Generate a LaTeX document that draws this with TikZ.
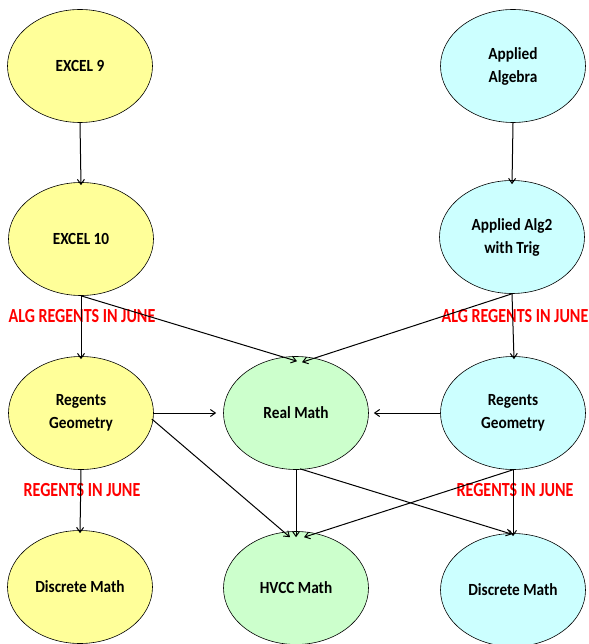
\documentclass[tikz,border=0pt]{standalone}
\usepackage{fontspec}
\setmainfont{Carlito}
\newfontfamily\nodefont[FakeStretch=0.9]{Carlito}
\newfontfamily\redfont[FakeStretch=0.8]{Carlito}
\usetikzlibrary{arrows.meta,shapes.geometric}
\definecolor{cyel}{RGB}{255,255,153}
\definecolor{ccya}{RGB}{204,255,255}
\definecolor{cgrn}{RGB}{204,255,204}
\tikzset{
  course/.style={ellipse, draw=black, line width=0.6pt, minimum width=145pt, minimum height=113pt, inner sep=0pt, align=center, font=\nodefont\fontsize{17}{23}\selectfont\bfseries},
  yel/.style={course, fill=cyel},
  cya/.style={course, fill=ccya},
  grn/.style={course, fill=cgrn},
  arr/.style={-{Straight Barb[length=5pt,width=7pt]}, line width=1pt, black},
  note/.style={text=red, font=\redfont\fontsize{20}{22}\selectfont\bfseries, inner sep=0pt}
}
\begin{document}
\begin{tikzpicture}[x=1pt,y=-1pt]
\useasboundingbox (0,0) rectangle (588,644);
\node[yel] (e9) at (80,66) {EXCEL 9};
\node[cya] (aa) at (513,66) {Applied\\Algebra};
\node[yel] (e10) at (81,239) {EXCEL 10};
\node[cya] (aa2) at (512,237) {Applied Alg2\\with Trig};
\node[yel] (rgl) at (81,413) {Regents\\Geometry};
\node[grn] (rm) at (296,413) {Real Math};
\node[cya] (rgr) at (513,413) {Regents\\Geometry};
\node[yel] (dml) at (80,587) {Discrete Math};
\node[grn] (hv) at (296,588) {HVCC Math};
\node[cya] (dmr) at (513,590) {Discrete Math};

\node[note] (l1) at (82,316) {ALG REGENTS IN JUNE};
\node[note] (l2) at (515,316) {ALG REGENTS IN JUNE};
\node[note] (l3) at (82,490) {REGENTS IN JUNE};
\node[note] (l4) at (515,490) {REGENTS IN JUNE};

\draw[arr] (e9.south) -- ([yshift=-3pt]e10.north);
\draw[arr] (aa.south) -- ([yshift=-4pt]aa2.north);
\draw[arr] (e10.south) -- ([yshift=-3pt]rgl.north);
\draw[arr] (aa2.south) -- ([xshift=1pt,yshift=-3pt]rgr.north);
\draw[arr] (e10.south) -- ([xshift=1pt,yshift=-5pt]rm.north);
\draw[arr] (aa2.south) -- ([xshift=6pt,yshift=-6pt]rm.north);
\draw[arr] (rgl.east) -- ([xshift=-7pt]rm.west);
\draw[arr] (rgr.west) -- ([xshift=5pt]rm.east);
\draw[arr] ([xshift=-2pt,yshift=-6pt]rgl.east) -- ([xshift=-6pt,yshift=-6pt]hv.north);
\draw[arr] (rm.south) -- ([yshift=-6pt]hv.north);
\draw[arr] (rgr.south) -- ([xshift=8pt,yshift=-6pt]hv.north);
\draw[arr] ([xshift=4pt,yshift=1pt]rm.south) -- ([xshift=-1pt,yshift=-1pt]dmr.north);
\draw[arr] (rgl.south) -- ([yshift=-3pt]dml.north);
\draw[arr] (rgr.south) -- ([yshift=-3pt]dmr.north);
\end{tikzpicture}
\end{document}
